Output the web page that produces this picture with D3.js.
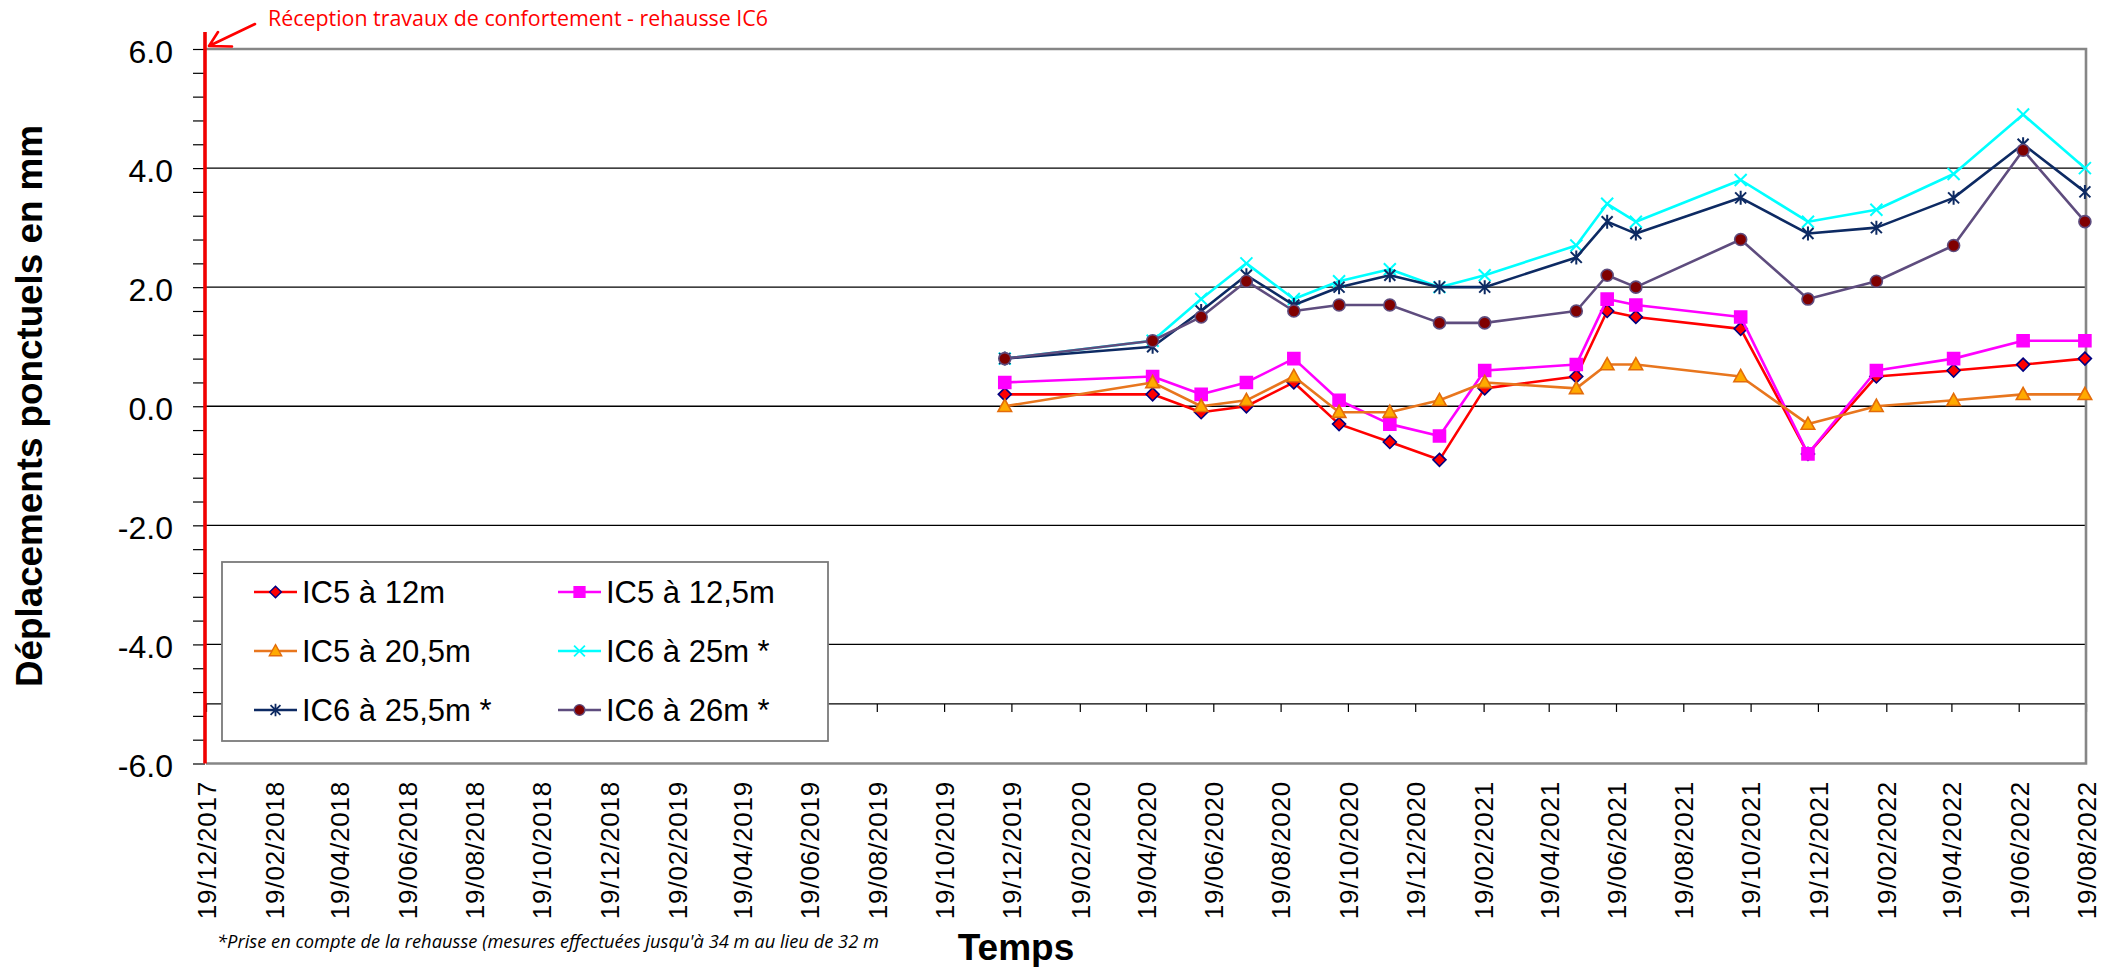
<!DOCTYPE html>
<html>
<head>
<meta charset="utf-8">
<title>Déplacements ponctuels</title>
<script src="https://cdn.jsdelivr.net/npm/d3@7"></script>
<style>
  body { margin: 0; background: #fff; }
  svg { display: block; }
  text { font-family: "Liberation Sans", Arial, sans-serif; }
</style>
</head>
<body>
<svg id="chart" width="2115" height="967"></svg>
<script>
// ---- Data -------------------------------------------------------------
const measureDates = [
  "13/12/2019", "25/04/2020", "08/06/2020", "19/07/2020", "31/08/2020",
  "11/10/2020", "26/11/2020", "10/01/2021", "20/02/2021", "14/05/2021",
  "11/06/2021", "07/07/2021", "10/10/2021", "10/12/2021", "10/02/2022",
  "21/04/2022", "23/06/2022", "18/08/2022"
];
const ic5_12m   = [0.2, 0.2, -0.1, 0.0, 0.4, -0.3, -0.6, -0.9, 0.3, 0.5, 1.6, 1.5, 1.3, -0.8, 0.5, 0.6, 0.7, 0.8];
const ic5_12_5m = [0.4, 0.5, 0.2, 0.4, 0.8, 0.1, -0.3, -0.5, 0.6, 0.7, 1.8, 1.7, 1.5, -0.8, 0.6, 0.8, 1.1, 1.1];
const ic5_20_5m = [0.0, 0.4, 0.0, 0.1, 0.5, -0.1, -0.1, 0.1, 0.4, 0.3, 0.7, 0.7, 0.5, -0.3, 0.0, 0.1, 0.2, 0.2];
const ic6_25m   = [0.8, 1.1, 1.8, 2.4, 1.8, 2.1, 2.3, 2.0, 2.2, 2.7, 3.4, 3.1, 3.8, 3.1, 3.3, 3.9, 4.9, 4.0];
const ic6_25_5m = [0.8, 1.0, 1.6, 2.2, 1.7, 2.0, 2.2, 2.0, 2.0, 2.5, 3.1, 2.9, 3.5, 2.9, 3.0, 3.5, 4.4, 3.6];
const ic6_26m   = [0.8, 1.1, 1.5, 2.1, 1.6, 1.7, 1.7, 1.4, 1.4, 1.6, 2.2, 2.0, 2.8, 1.8, 2.1, 2.7, 4.3, 3.1];

const seriesNames = ["IC5 à 12m", "IC5 à 12,5m", "IC5 à 20,5m", "IC6 à 25m *", "IC6 à 25,5m *", "IC6 à 26m *"];

const xTickLabels = [
  "19/12/2017", "19/02/2018", "19/04/2018", "19/06/2018", "19/08/2018", "19/10/2018",
  "19/12/2018", "19/02/2019", "19/04/2019", "19/06/2019", "19/08/2019", "19/10/2019",
  "19/12/2019", "19/02/2020", "19/04/2020", "19/06/2020", "19/08/2020", "19/10/2020",
  "19/12/2020", "19/02/2021", "19/04/2021", "19/06/2021", "19/08/2021", "19/10/2021",
  "19/12/2021", "19/02/2022", "19/04/2022", "19/06/2022", "19/08/2022"
];
const yTickLabels = ["-6.0", "-4.0", "-2.0", "0.0", "2.0", "4.0", "6.0"];

const annotationText = "Réception travaux de confortement - rehausse IC6";
const footnoteText = "*Prise en compte de la rehausse (mesures effectuées jusqu'à 34 m au lieu de 32 m";
const xTitle = "Temps";
const yTitle = "Déplacements ponctuels en mm";

// ---- Styles per series ------------------------------------------------
const seriesStyles = [
  { line: "#FF0000", marker: "diamond",  fill: "#FF0000", stroke: "#000080" },
  { line: "#FF00FF", marker: "square",   fill: "#FF00FF", stroke: "#FF00FF" },
  { line: "#E8761E", marker: "triangle", fill: "#FFAA00", stroke: "#E36C0A" },
  { line: "#00FFFF", marker: "cross",    fill: "none",    stroke: "#00FFFF" },
  { line: "#0D2A63", marker: "star",     fill: "none",    stroke: "#0D2A63" },
  { line: "#5E4C7E", marker: "circle",   fill: "#800000", stroke: "#5E4C7E" }
];

const parseDate = d3.timeParse("%d/%m/%Y");
const dates = measureDates.map(parseDate);
const tickDates = xTickLabels.map(parseDate);
const valueSets = [ic5_12m, ic5_12_5m, ic5_20_5m, ic6_25m, ic6_25_5m, ic6_26m];
const series = seriesNames.map((name, i) => ({
  name,
  style: seriesStyles[i],
  points: dates.map((d, j) => ({ date: d, value: valueSets[i][j] }))
}));

// ---- Layout -----------------------------------------------------------
const plot = { left: 206, right: 2086, top: 49, bottom: 763.5 };
const svg = d3.select("#chart");

const x = d3.scaleTime()
  .domain([tickDates[0], tickDates[tickDates.length - 1]])
  .range([plot.left, plot.right]);
const y = d3.scaleLinear().domain([-6, 6]).range([plot.bottom, plot.top]);

const yMajor = yTickLabels.map(Number);
const yMinor = d3.range(0, 31).map(i => +(-6 + i * 0.4).toFixed(1));

// Horizontal gridlines (inner major values)
svg.append("g")
  .selectAll("line")
  .data(yMajor.filter(v => v > -6 && v < 6))
  .join("line")
  .attr("x1", plot.left).attr("x2", plot.right)
  .attr("y1", d => y(d)).attr("y2", d => y(d))
  .attr("stroke", "#000").attr("stroke-width", 1.3);

// Category axis crossing at -5, tick marks hang below it
const xAxis = svg.append("g")
  .attr("transform", `translate(0,${y(-5)})`)
  .call(d3.axisBottom(x).tickValues(tickDates).tickSize(8)
    .tickFormat((d, i) => xTickLabels[i]));
xAxis.select(".domain").remove();
xAxis.selectAll(".tick line").attr("stroke", "#000").attr("stroke-width", 1.2);
xAxis.append("line")
  .attr("x1", plot.left).attr("x2", plot.right)
  .attr("y1", 0).attr("y2", 0)
  .attr("stroke", "#000").attr("stroke-width", 1.3);
xAxis.selectAll(".tick text")
  .attr("x", 0).attr("y", 0).attr("dy", "0.36em")
  .attr("transform", `translate(0,${781 - y(-5)}) rotate(-90)`)
  .attr("text-anchor", "end")
  .attr("fill", "#000")
  .style("font-size", "26px")
  .style("letter-spacing", "0.8px")
  .style("font-family", "\"Liberation Sans\", Arial, sans-serif");

// Plot frame (top, right, bottom)
svg.append("path")
  .attr("d", `M${plot.left},${y(6)}H${plot.right}V${y(-6)}H${plot.left}`)
  .attr("fill", "none").attr("stroke", "#868686").attr("stroke-width", 2.6);

// Value axis: minor ticks every 0.4, labels every 2.0
const yMinorAxis = svg.append("g")
  .attr("transform", `translate(${plot.left - 1},0)`)
  .call(d3.axisLeft(y).tickValues(yMinor).tickSize(12).tickFormat(""));
yMinorAxis.select(".domain").remove();
yMinorAxis.selectAll(".tick line").attr("stroke", "#000").attr("stroke-width", 1.2);

const yLabelAxis = svg.append("g")
  .attr("transform", `translate(${plot.left - 1},0)`)
  .call(d3.axisLeft(y).tickValues(yMajor).tickSize(0).tickPadding(32)
    .tickFormat((d, i) => yTickLabels[i]));
yLabelAxis.select(".domain").remove();
yLabelAxis.selectAll(".tick text")
  .attr("dy", "0.42em")
  .attr("fill", "#000")
  .style("font-size", "32px")
  .style("font-family", "\"Liberation Sans\", Arial, sans-serif");

// Red marker line for the reinforcement works reception
svg.append("line")
  .attr("x1", plot.left - 1).attr("x2", plot.left - 1)
  .attr("y1", 32).attr("y2", y(-6))
  .attr("stroke", "#F00000").attr("stroke-width", 3.6);

// ---- Markers ----------------------------------------------------------
function markerPath(type) {
  switch (type) {
    case "diamond":  return "M0,-6.5L6.5,0L0,6.5L-6.5,0Z";
    case "square":   return "M-6,-6H6V6H-6Z";
    case "triangle": return "M0,-7L6.8,5.2H-6.8Z";
    case "cross":    return "M-6,-6L6,6M-6,6L6,-6";
    case "star":     return "M-5.5,-5.5L5.5,5.5M-5.5,5.5L5.5,-5.5M0,-7V7";
    case "circle":   return d3.symbol(d3.symbolCircle, 113)();
  }
}
function drawMarker(sel, style) {
  sel.append("path")
    .attr("d", markerPath(style.marker))
    .attr("fill", style.fill)
    .attr("stroke", style.stroke)
    .attr("stroke-width", (style.marker === "cross" || style.marker === "star") ? 2 : 1.6);
}

// ---- Series -----------------------------------------------------------
const line = d3.line().x(d => x(d.date)).y(d => y(d.value));
const seriesG = svg.append("g");
series.forEach(s => {
  const g = seriesG.append("g");
  g.append("path")
    .datum(s.points)
    .attr("d", line)
    .attr("fill", "none")
    .attr("stroke", s.style.line)
    .attr("stroke-width", 2.6)
    .attr("stroke-linejoin", "round");
  g.selectAll("g.pt")
    .data(s.points)
    .join("g")
    .attr("class", "pt")
    .attr("transform", d => `translate(${x(d.date)},${y(d.value)})`)
    .each(function () { drawMarker(d3.select(this), s.style); });
});

// ---- Legend -----------------------------------------------------------
const legend = svg.append("g");
legend.append("rect")
  .attr("x", 222).attr("y", 562).attr("width", 606).attr("height", 179)
  .attr("fill", "#fff").attr("stroke", "#7a7a7a").attr("stroke-width", 1.8);
const colX = [254, 558];
const rowY = [592, 651, 710];
series.forEach((s, i) => {
  const cx = colX[i % 2], cy = rowY[Math.floor(i / 2)];
  const item = legend.append("g").attr("transform", `translate(${cx},${cy})`);
  item.append("line").attr("x1", 0).attr("x2", 43).attr("y1", 0).attr("y2", 0)
    .attr("stroke", s.style.line).attr("stroke-width", 2.6);
  const m = item.append("g").attr("transform", "translate(21.5,0) scale(0.9)");
  drawMarker(m, s.style);
  item.append("text")
    .attr("x", 48).attr("y", 11)
    .style("font-size", "31px")
    .attr("fill", "#000")
    .text(s.name);
});

// ---- Titles and notes -------------------------------------------------
svg.append("text")
  .attr("transform", "translate(42,406) rotate(-90)")
  .attr("text-anchor", "middle")
  .style("font-size", "37px").style("font-weight", "bold")
  .attr("textLength", 562).attr("lengthAdjust", "spacingAndGlyphs")
  .text(yTitle);

svg.append("text")
  .attr("x", 1016).attr("y", 960)
  .attr("text-anchor", "middle")
  .style("font-size", "37px").style("font-weight", "bold")
  .text(xTitle);

svg.append("text")
  .attr("x", 217).attr("y", 948)
  .style("font-family", "\"Open Sans\", sans-serif")
  .style("font-size", "18px").style("font-style", "italic")
  .attr("textLength", 662).attr("lengthAdjust", "spacingAndGlyphs")
  .text(footnoteText);

// Annotation with arrow pointing at the red line
svg.append("text")
  .attr("x", 268).attr("y", 26)
  .style("font-family", "\"Open Sans\", sans-serif")
  .style("font-size", "22px")
  .attr("fill", "#FF0000")
  .attr("textLength", 500).attr("lengthAdjust", "spacingAndGlyphs")
  .text(annotationText);
svg.append("path")
  .attr("d", "M255,24L209,46M209,46L232,46.5M209,46L218,32")
  .attr("fill", "none").attr("stroke", "#FF0000").attr("stroke-width", 2.6)
  .attr("stroke-linecap", "round");
</script>
</body>
</html>
